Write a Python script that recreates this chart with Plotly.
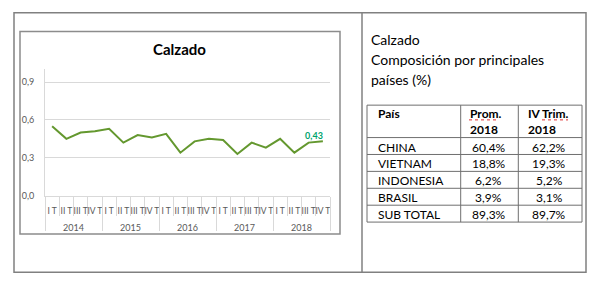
import plotly.graph_objects as go

years = ["2014", "2015", "2016", "2017", "2018"]
quarters = ["I T", "II T", "III T", "IV T"]
values = [0.55, 0.45, 0.50, 0.51, 0.53,
          0.42, 0.48, 0.46, 0.49,
          0.34, 0.43, 0.45, 0.44,
          0.33, 0.42, 0.38, 0.45,
          0.34, 0.42, 0.43]
last_label_index = 19

paises = ["CHINA", "VIETNAM", "INDONESIA", "BRASIL", "SUB TOTAL"]
prom_2018 = ["60,4%", "18,8%", "6,2%", "3,9%", "89,3%"]
iv_trim_2018 = ["62,2%", "19,3%", "5,2%", "3,1%", "89,7%"]
table_header = ["País", "Prom.", "IV Trim."]
header_sub = ["", "2018", "2018"]
side_title = ["Calzado", "Composición por principales", "países (%)"]

W, H = 603, 289
def px(x):
    return x / W
def py(y):
    return 1 - y / H

FONT = "Lato"
GRID = "#d9d9d9"
FRAME = "#808080"
TXT = "#595959"

n = len(values)
nq = len(quarters)
xs = list(range(n))
tick_text = [quarters[i % nq] for i in xs]
year_pos = [j * nq + (nq - 1) / 2 for j in range(len(years))]
labels = ["" if i != last_label_index else f"{values[i]:.2f}".replace(".", ",") for i in xs]

fig = go.Figure()
fig.add_trace(go.Scatter(
    x=xs, y=values,
    mode="lines+text", text=labels, textposition="top left",
    textfont=dict(family=FONT, size=9, color="#00A36C", weight="bold"),
    line=dict(color="#64982F", width=2),
    hoverinfo="skip", showlegend=False, cliponaxis=False,
))
fig.add_trace(go.Scatter(
    x=year_pos, y=[None] * len(years), xaxis="x2", mode="markers",
    hoverinfo="skip", showlegend=False,
))

shapes = [
    dict(type="rect", xref="paper", yref="paper", x0=px(14), x1=px(586),
         y0=py(277), y1=py(13), line=dict(color=FRAME, width=1.5)),
    dict(type="line", xref="paper", yref="paper", x0=px(362), x1=px(362),
         y0=py(277), y1=py(13), line=dict(color=FRAME, width=1.5)),
    dict(type="rect", xref="paper", yref="paper", x0=px(20), x1=px(340),
         y0=py(238), y1=py(32), line=dict(color="#8c8c8c", width=1.5)),
]
annotations = [
    dict(text="<b>Calzado</b>", x=px(180), y=py(50), xref="paper", yref="paper",
         showarrow=False, font=dict(family=FONT, size=15, color="#000"),
         xanchor="center", yanchor="middle"),
]
for i, line in enumerate(side_title):
    annotations.append(dict(text=line, x=px(369), y=py(40 + i * 20.5), xref="paper",
                            yref="paper", showarrow=False, xanchor="left", yanchor="middle",
                            font=dict(family=FONT, size=14, color="#000")))

# table built from the lists
col_edges = [367, 460.7, 518.3, 582]
tab_top, head_h, row_h = 107, 33, 17.2
n_rows = len(paises)
tab_bot = tab_top + head_h + n_rows * row_h
TL = dict(color="#6f6f6f", width=1)
for xe in col_edges:
    shapes.append(dict(type="line", xref="paper", yref="paper", x0=px(xe), x1=px(xe),
                       y0=py(tab_bot), y1=py(tab_top), line=TL))
row_edges = [tab_top, tab_top + head_h] + [tab_top + head_h + (r + 1) * row_h for r in range(n_rows)]
for ye in row_edges:
    shapes.append(dict(type="line", xref="paper", yref="paper", x0=px(col_edges[0]),
                       x1=px(col_edges[-1]), y0=py(ye), y1=py(ye), line=TL))
# spell-check squiggles under "Prom." and "Trim."
for x0, x1 in [(469, 499), (542, 568)]:
    shapes.append(dict(type="line", xref="paper", yref="paper", x0=px(x0), x1=px(x1),
                       y0=py(tab_top + 15), y1=py(tab_top + 15),
                       line=dict(color="#e03030", width=1, dash="dot")))
header_x = [376, 468, 526]
for c in range(3):
    annotations.append(dict(text=f"<b>{table_header[c]}</b>", x=px(header_x[c]), y=py(tab_top + 8.5),
                            xref="paper", yref="paper", showarrow=False, xanchor="left",
                            yanchor="middle", font=dict(family=FONT, size=12, color="#000")))
    if header_sub[c]:
        annotations.append(dict(text=f"<b>{header_sub[c]}</b>", x=px(header_x[c]), y=py(tab_top + 25),
                                xref="paper", yref="paper", showarrow=False, xanchor="left",
                                yanchor="middle", font=dict(family=FONT, size=12, color="#000")))
cols = [paises, prom_2018, iv_trim_2018]
for r in range(n_rows):
    yc = tab_top + head_h + (r + 0.5) * row_h + 1
    annotations.append(dict(text=cols[0][r], x=px(376), y=py(yc), xref="paper", yref="paper",
                            showarrow=False, xanchor="left", yanchor="middle",
                            font=dict(family=FONT, size=12, color="#000")))
    for c in (1, 2):
        xc = (col_edges[c] + col_edges[c + 1]) / 2 - 1
        annotations.append(dict(text=cols[c][r], x=px(xc), y=py(yc), xref="paper", yref="paper",
                                showarrow=False, xanchor="center", yanchor="middle",
                                font=dict(family=FONT, size=12, color="#000")))

fig.update_layout(
    width=W, height=H, margin=dict(l=0, r=0, t=0, b=0),
    paper_bgcolor="white", plot_bgcolor="white",
    separators=",.",
    font=dict(family=FONT, size=8, color=TXT),
    xaxis=dict(domain=[px(45), px(330)], range=[-0.5, n - 0.5],
               tickmode="array", tickvals=xs, ticktext=tick_text,
               showgrid=False, zeroline=False, showline=True, linecolor=GRID, linewidth=1,
               ticks="", tickangle=0, ticklabelstandoff=7,
               minor=dict(ticks="outside", tick0=-0.5, dtick=1, ticklen=19,
                          tickcolor=GRID, showgrid=False),
               tickfont=dict(family=FONT, size=8.5, color=TXT)),
    xaxis2=dict(overlaying="x", anchor="free", position=py(199), side="bottom",
                range=[-0.5, n - 0.5], tickmode="array", tickvals=year_pos, ticktext=years,
                showgrid=False, zeroline=False, showline=False, ticks="", tickangle=0,
                ticklabelstandoff=25,
                minor=dict(ticks="outside", tick0=-0.5, dtick=nq, ticklen=34,
                           tickcolor=GRID, showgrid=False),
                tickfont=dict(family=FONT, size=9, color=TXT)),
    yaxis=dict(domain=[py(199), py(70.7)], range=[0, 1.0], dtick=0.3, tick0=0,
               tickformat=".1f", showgrid=True, gridcolor=GRID, gridwidth=1,
               zeroline=False, showline=True, linecolor=GRID, linewidth=1,
               ticks="", ticklabelstandoff=8, tickfont=dict(family=FONT, size=9, color=TXT)),
    shapes=shapes,
    annotations=annotations,
)

fig.write_html("out.html")
